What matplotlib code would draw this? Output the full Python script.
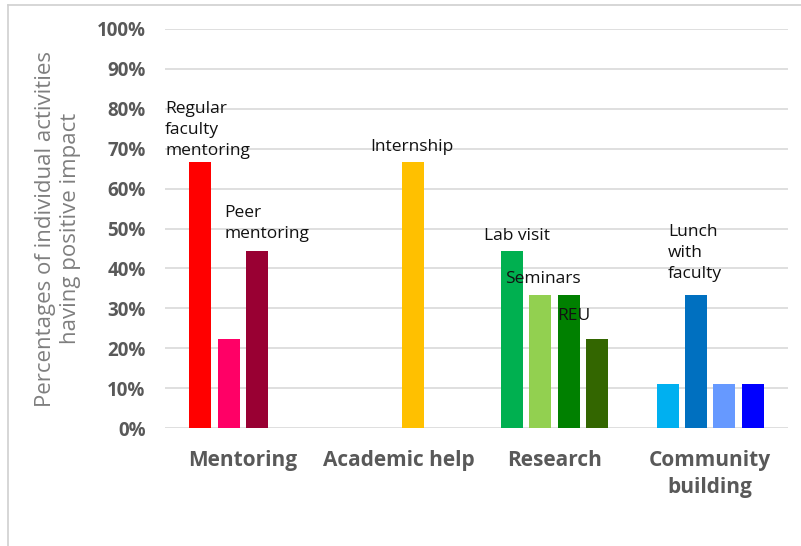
import matplotlib
matplotlib.use('Agg')
import matplotlib.pyplot as plt
from matplotlib.lines import Line2D

categories = ['Mentoring', 'Academic help', 'Research', 'Community\nbuilding']

# four slots per category, None = empty slot
slot_values = [
    [66.7, 22.2, 44.4, None],
    [None, None, 66.7, None],
    [44.4, 33.3, 33.3, 22.2],
    [11.1, 33.3, 11.1, 11.1],
]
slot_colors = [
    ['#ff0000', '#ff0066', '#990033', None],
    [None, None, '#ffc000', None],
    ['#00b050', '#92d050', '#008000', '#336600'],
    ['#00b0f0', '#0070c0', '#6699ff', '#0000ff'],
]

activity_labels = ['Regular\nfaculty\nmentoring', 'Peer\nmentoring', 'Internship',
                   'Lab visit', 'Seminars', 'REU', 'Lunch\nwith\nfaculty']
# where each label sits (x in category units, y in %)
label_pos = [(-0.50, 82.0), (-0.12, 56.0), (0.815, 72.4), (1.545, 50.2),
             (1.68, 39.4), (2.015, 30.2), (2.73, 51.2)]

pitch = 0.182
width = 0.141

plt.rcParams['font.family'] = ['Open Sans', 'DejaVu Sans']

fig = plt.figure(figsize=(8.01, 5.46), dpi=100)
fig.patch.set_facecolor('white')
ax = fig.add_axes([0.206, 0.216, 0.778, 0.731])

for ci, (vals, cols) in enumerate(zip(slot_values, slot_colors)):
    for si, (v, c) in enumerate(zip(vals, cols)):
        if v is None:
            continue
        ax.bar(ci + (si - 1.5) * pitch, v / 100, width=width, color=c, zorder=2)

for text, (x, y) in zip(activity_labels, label_pos):
    ax.text(x, y / 100, text, fontsize=12.5, color='#111111', va='top', ha='left',
            linespacing=1.42, zorder=3)

ax.set_xlim(-0.5, 3.5)
ax.set_ylim(0, 1)
ax.set_yticks([i / 10 for i in range(11)])
ax.set_yticklabels([f'{i * 10}%' for i in range(11)], fontsize=13.5,
                   fontweight='bold', color='#595959')
ax.set_xticks(range(len(categories)))
ax.set_xticklabels(categories, fontsize=15, fontweight='bold', color='#595959',
                   linespacing=1.35)
ax.tick_params(axis='both', length=0)
ax.tick_params(axis='y', pad=14)
ax.tick_params(axis='x', pad=16)
for s in ax.spines.values():
    s.set_visible(False)
ax.yaxis.grid(True, color='#d9d9d9', linewidth=1.2, zorder=0)
ax.set_axisbelow(True)

ax.set_ylabel('Percentages of individual activities\nhaving positive impact',
              fontsize=16, color='#7f7f7f', labelpad=11, linespacing=1.25)

# outer frame lines (top and left)
fig.add_artist(Line2D([0.01, 1.0], [0.991, 0.991], color='#d0d0d0', linewidth=1.2,
                      transform=fig.transFigure))
fig.add_artist(Line2D([0.01, 0.01], [0.0, 0.991], color='#d0d0d0', linewidth=1.2,
                      transform=fig.transFigure))

fig.savefig('out.png', dpi=100)
